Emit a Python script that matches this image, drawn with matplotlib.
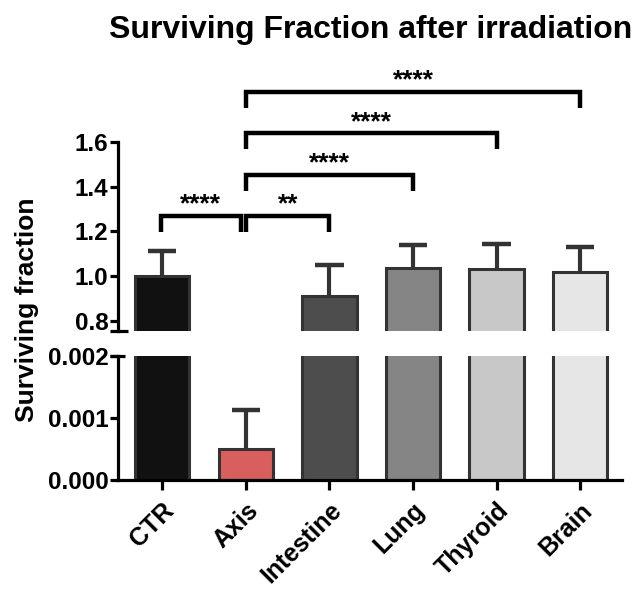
"""Surviving fraction after irradiation -- broken-axis bar chart."""

import matplotlib

matplotlib.use("Agg")
import matplotlib.pyplot as plt

plt.rcParams["font.family"] = ["Liberation Sans", "DejaVu Sans"]
plt.rcParams["font.weight"] = "bold"

categories = ["CTR", "Axis", "Intestine", "Lung", "Thyroid", "Brain"]
means = [1.0, 0.0005, 0.91, 1.036, 1.03, 1.018]
errors = [0.112, 0.00063, 0.14, 0.103, 0.115, 0.112]
colors = ["#111111", "#d95f5f", "#4d4d4d", "#858585", "#c8c8c8", "#e6e6e6"]

# (left bar, right bar, stars, bracket level)
comparisons = [
    (0, 1, "****", 0),
    (1, 2, "**", 0),
    (1, 3, "****", 1),
    (1, 4, "****", 2),
    (1, 5, "****", 3),
]

top_ticks = [0.8, 1.0, 1.2, 1.4, 1.6]
bottom_ticks = [0.0, 0.001, 0.002]

fig = plt.figure(figsize=(6.44, 5.96), dpi=100)
ax_top = fig.add_axes([0.1832, 0.4446, 0.7826, 0.4547])
ax_bot = fig.add_axes([0.1832, 0.1946, 0.7826, 0.2081])

x = list(range(len(categories)))
lw = 2.3
edge = "#333333"

for ax in (ax_top, ax_bot):
    ax.bar(x, means, width=0.65, color=colors, edgecolor=edge, linewidth=2.2, zorder=2)
    ax.set_xlim(-0.53, 5.50)
    for s in ("top", "right"):
        ax.spines[s].set_visible(False)
    ax.spines["left"].set_linewidth(lw)
    ax.tick_params(axis="y", width=lw, length=6, labelsize=17.5, pad=1)

# error bars (upper only), drawn in whichever panel shows the bar top
cap = 0.17
for i, (m, e) in enumerate(zip(means, errors)):
    ax = ax_bot if m < 0.01 else ax_top
    ax.vlines(i, m, m + e, color=edge, lw=3, zorder=1)
    ax.hlines(m + e, i - cap, i + cap, color=edge, lw=3.2, zorder=1)

ax_top.set_ylim(0.754, 1.967)
ax_top.spines["left"].set_bounds(0.754, 1.6)
ax_top.spines["bottom"].set_visible(False)
ax_top.set_yticks(top_ticks)
ax_top.set_yticklabels([f"{t:.1f}" for t in top_ticks])
ax_top.set_xticks([])

ax_bot.set_ylim(0, 0.002)
ax_bot.set_yticks(bottom_ticks)
ax_bot.set_yticklabels([f"{t:.3f}" for t in bottom_ticks])
ax_bot.spines["bottom"].set_linewidth(lw)
ax_bot.set_xticks(x)
ax_bot.set_xticklabels(categories, rotation=45, ha="right", va="top",
                       rotation_mode="anchor", fontsize=18)
ax_bot.tick_params(axis="x", width=lw, length=7, pad=6)

# break marks at the cut
ax_top.plot([-0.016, 0.02], [0, 0], transform=ax_top.transAxes, color="black",
            lw=lw, clip_on=False, solid_capstyle="butt")
ax_bot.plot([-0.016, 0.014], [1, 1], transform=ax_bot.transAxes, color="black",
            lw=lw, clip_on=False, solid_capstyle="butt")

# significance brackets
base, step, leg = 1.269, 0.185, 0.072
for i, j, stars, level in comparisons:
    y = base + level * step
    x0 = i + 0.005 if i == 1 else i - 0.02
    x1 = j - 0.055 if i == 0 else j
    ax_top.plot([x0, x0, x1, x1], [y - leg, y, y, y - leg], color="black",
                lw=3.2, clip_on=False, solid_joinstyle="miter",
                solid_capstyle="butt")
    ax_top.text((x0 + x1) / 2, y + 0.05, stars, ha="center", va="center",
                fontsize=19, fontweight="bold")

fig.text(0.575, 0.95, "Surviving Fraction after irradiation", ha="center",
         va="center", fontsize=23, fontweight="bold")
fig.text(0.042, 0.48, "Surviving fraction", ha="center", va="center",
         rotation=90, fontsize=19, fontweight="bold")

fig.savefig("out.png", dpi=100)
